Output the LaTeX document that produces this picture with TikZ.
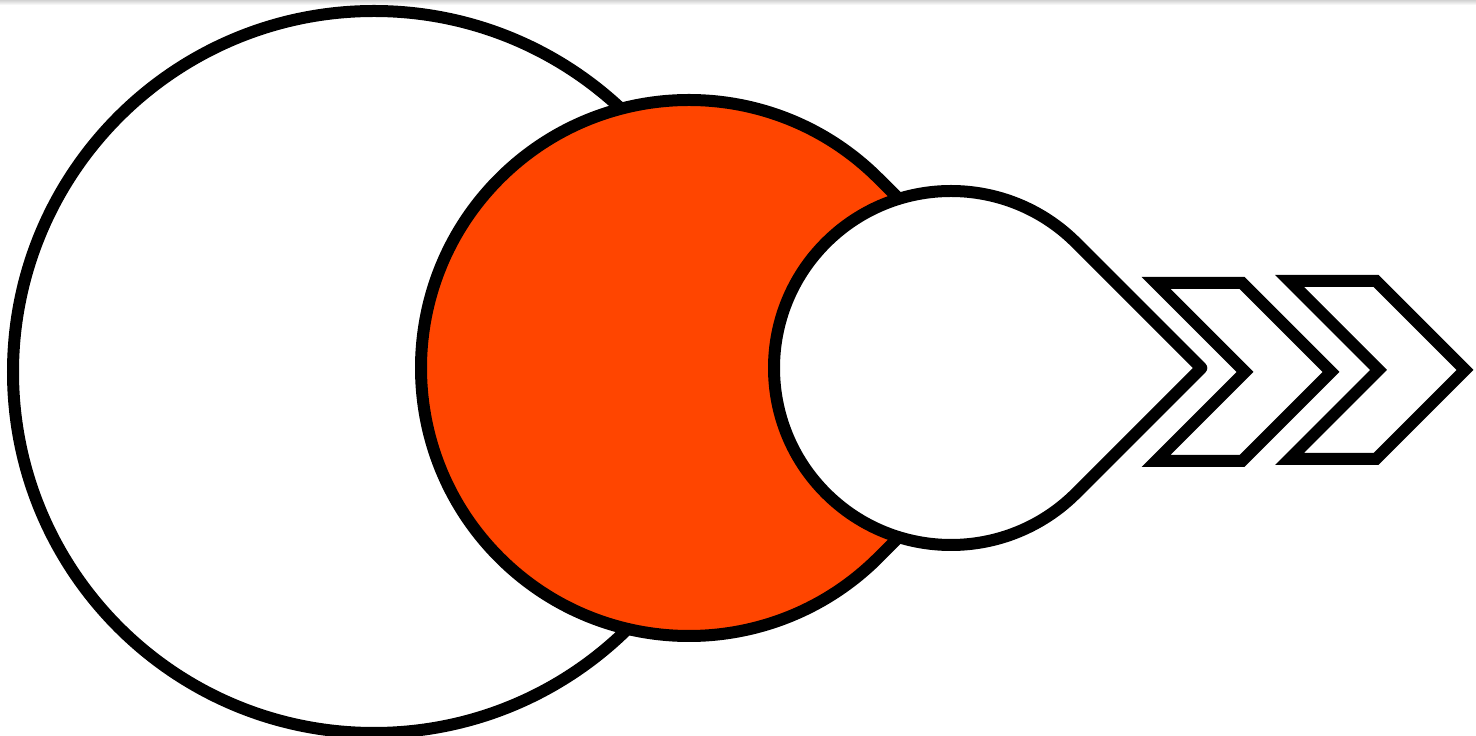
\documentclass[tikz,border=0pt]{standalone}
\usetikzlibrary{calc}
\begin{document}
\begin{tikzpicture}[x=1pt,y=1pt,
  shapeline/.style={draw=black,line width=12pt},
  drop/.style={shapeline,line join=round},
  chev/.style={shapeline,line join=miter,miter limit=10,fill=white}]
\useasboundingbox (0,0) rectangle (1476,736);
\fill[white] (0,0) rectangle (1476,736);
\shade[top color=gray!35,bottom color=white] (0,731) rectangle (1476,736);
% big circle
\coordinate (bigc) at (374,364);
\draw[shapeline,fill=white] (bigc) circle[radius=361];
% orange teardrop
\definecolor{dropred}{HTML}{FF4500}
\coordinate (oc) at (689,368);
\coordinate (otip) at (1068,368);
\draw[drop,fill=dropred] (otip) -- ($(oc)+(45:268)$) arc[start angle=45,end angle=315,radius=268] -- cycle;
% white teardrop
\coordinate (wc) at (951,368);
\coordinate (wtip) at (1201.3,368);
\draw[drop,fill=white] (wtip) -- ($(wc)+(45:177)$) arc[start angle=45,end angle=315,radius=177] -- cycle;
% chevrons
\draw[chev] (1156,453) -- (1242,453) -- (1331,364) -- (1242,275) -- (1156,275) -- (1245,364) -- cycle;
\draw[chev] (1289.5,455) -- (1376,455) -- (1465,366) -- (1376,277) -- (1289.5,277) -- (1378.5,366) -- cycle;
\end{tikzpicture}
\end{document}
